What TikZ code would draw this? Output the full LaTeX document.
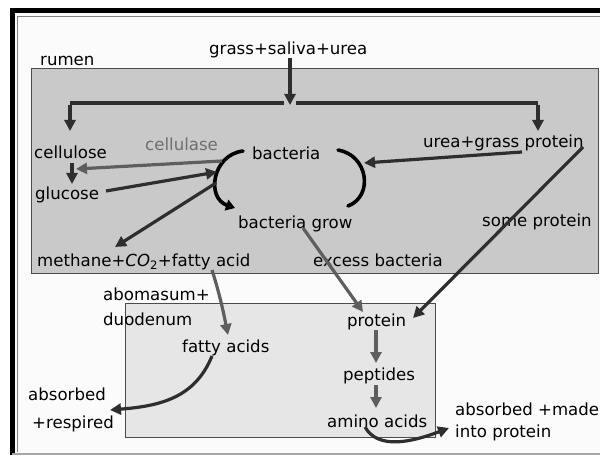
\documentclass[tikz,border=0pt]{standalone}
\usepackage{fontspec}
\setmainfont{DejaVu Sans}
\usetikzlibrary{arrows.meta}
\definecolor{rumenfill}{HTML}{C9C9C9}
\definecolor{lowfill}{HTML}{E6E6E6}
\definecolor{pagebg}{HTML}{FBFBFB}
\definecolor{darkline}{HTML}{2E2E2E}
\definecolor{midline}{HTML}{5E5E5E}
\definecolor{enzyme}{HTML}{6E6E6E}
\begin{document}
\begin{tikzpicture}[x=1pt,y=-1pt,
  lbl/.style={font=\fontsize{16.6}{19}\selectfont, inner sep=0pt, text=black},
  arr/.style={draw=darkline, line width=3.2pt, -{Triangle[length=11pt,width=11pt]}},
  garr/.style={arr, draw=midline},
  cyc/.style={draw=black, line width=3.6pt, line cap=round}]
\path[use as bounding box] (0,0) rectangle (600,457);
\fill[pagebg] (12,11) rectangle (600,455);
% frame
\draw[black, line width=5pt] (12,455) -- (12,11) -- (605,11);
\draw[gray, line width=0.8pt] (17,452) -- (17,16) -- (605,16);
\draw[gray!70, line width=2pt] (12,454) -- (605,454);
% boxes
\draw[draw=black!70, fill=rumenfill, line width=0.8pt] (31,68) rectangle (598,273);
\draw[draw=black!70, fill=lowfill, line width=0.8pt] (125,303) rectangle (435,437);
% texts
\node[lbl, anchor=base west] (gsu) at (209,55) {grass+saliva+urea};
\node[lbl, anchor=base west] (rumen) at (40,66) {rumen};
\node[lbl, anchor=base west] (cellulose) at (34,159) {cellulose};
\node[lbl, anchor=base west, text=enzyme] (cellulase) at (145,151) {cellulase};
\node[lbl, anchor=base west] (glucose) at (35,200) {glucose};
\node[lbl, anchor=base west] (bacteria) at (252,160) {bacteria};
\node[lbl, anchor=base west] (grow) at (238,229) {bacteria grow};
\node[lbl, anchor=base west] (ugp) at (423,148) {urea+grass protein};
\node[lbl, anchor=base west] (some) at (482,227) {some protein};
\node[lbl, anchor=base west] (methane) at (37,267) {methane+\textit{CO}\textsubscript{2}+fatty acid};
\node[lbl, anchor=base west] (excess) at (313,267) {excess bacteria};
\node[lbl, anchor=base west] (aboma) at (103,300) {abomasum+};
\node[lbl, anchor=base west] (duod) at (103,325) {duodenum};
\node[lbl, anchor=base west] (fatty) at (182,352) {fatty acids};
\node[lbl, anchor=base west] (absA) at (28,400) {absorbed};
\node[lbl, anchor=base west] (absB) at (32,428) {+respired};
\node[lbl, anchor=base west] (prot) at (347,326) {protein};
\node[lbl, anchor=base west] (pept) at (343,380) {peptides};
\node[lbl, anchor=base west] (amino) at (327,427) {amino acids};
\node[lbl, anchor=base west] (madeA) at (455,415) {absorbed +made};
\node[lbl, anchor=base west] (madeB) at (455,437) {into protein};
% coordinates
\coordinate (split) at (290,103);
\coordinate (lsplit) at (70,103);
\coordinate (rsplit) at (538,103);
\coordinate (arcLs) at (243,151);
\coordinate (arcLe) at (235,208);
\coordinate (arcRs) at (338,150);
\coordinate (arcRe) at (348,206);
\coordinate (arcLin) at (217,172);
\coordinate (arcLcel) at (222,161);
\coordinate (arcLout) at (216,183);
\coordinate (arcRin) at (364,163);
% splitter
\draw[arr] (290,58) -- ([yshift=-2pt]split);
\draw[draw=darkline, line width=3.2pt] ([xshift=-6pt]split) -- (lsplit);
\draw[draw=darkline, line width=3.2pt] ([xshift=6pt]split) -- (rsplit);
\draw[arr] ([yshift=-1.6pt]lsplit) -- (70,131);
\draw[arr] ([yshift=-1.6pt]rsplit) -- (538,131);
% cycle arcs
\draw[cyc, -{Triangle[length=9pt,width=11pt]}] (arcLs) .. controls (212,155) and (206,198) .. (arcLe);
\draw[cyc] (arcRs) .. controls (368,155) and (374,196) .. (arcRe);
% arrows
\draw[garr] (arcLcel) -- (76,169);
\draw[arr] (72,163) -- (72,184);
\draw[arr] (106,191) -- (arcLin);
\draw[arr] (522,152) -- (arcRin);
\draw[arr] (583,147) -- (413,318);
\draw[arr] (arcLout) -- (115,247);
\draw[garr] (303,228) -- (363,312);
\draw[garr] (212,270) .. controls (220,295) and (224,315) .. (228,335);
\draw[arr] (212,356) .. controls (195,398) and (160,406) .. (110,410);
\draw[garr] (376,330) -- (376,363);
\draw[garr] (376,385) -- (376,408);
\draw[arr] (365,427) .. controls (378,450) and (412,442) .. (449,428);
\end{tikzpicture}
\end{document}
